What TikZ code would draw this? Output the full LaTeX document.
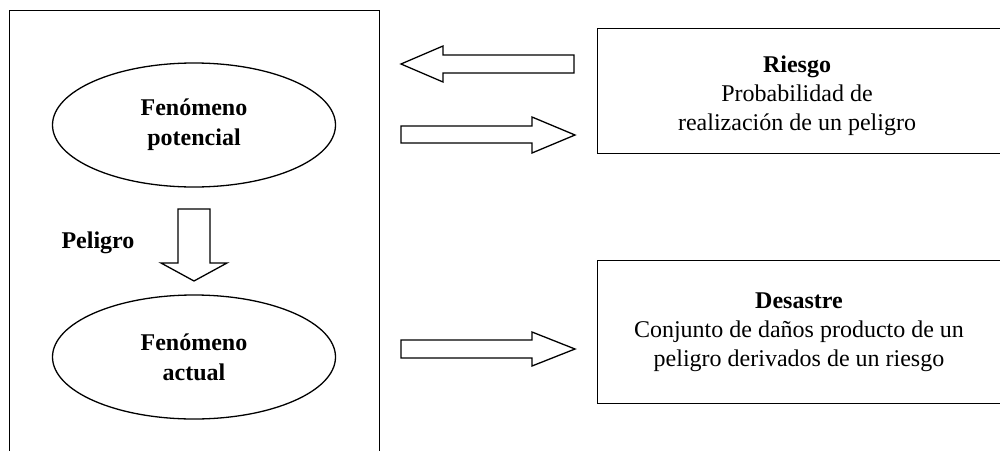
\documentclass[tikz,border=0pt]{standalone}
\usepackage{fontspec}
\setmainfont{Liberation Serif}
\usetikzlibrary{shapes.geometric}
\begin{document}
\begin{tikzpicture}[x=1pt,y=-1pt,line width=1.3pt,
  txt/.style={font=\fontsize{24}{29}\selectfont, align=center, inner sep=0pt},
  oval/.style={draw, ellipse, minimum width=283pt, minimum height=124pt, inner sep=0pt, align=center, font=\bfseries\fontsize{24}{30}\selectfont},
  panel/.style={draw, anchor=north west, inner sep=0pt},
  blockarrow/.style={draw, fill=white, line join=miter}]
\useasboundingbox (0,0) rectangle (1000,450);
\clip (0,0) rectangle (1000,450);
% left frame (open below the picture)
\node[panel, minimum width=370pt, minimum height=470pt] (frame) at (9,10) {};
% ellipses
\node[oval] (potencial) at (194,125) {Fenómeno\\potencial};
\node[oval] (actual) at (194,357) {Fenómeno\\actual};
\node[txt, font=\bfseries\fontsize{24}{29}\selectfont] (peligro) at (98,243) {Peligro};
% right boxes
\node[panel, minimum width=430pt, minimum height=125pt] (riesgo) at (597,28) {};
\node[txt] (riesgotxt) at (797,96) {\textbf{Riesgo}\\Probabilidad de\\realización de un peligro};
\node[panel, minimum width=430pt, minimum height=143pt] (desastre) at (597,260) {};
\node[txt] (desastretxt) at (799,332) {\textbf{Desastre}\\Conjunto de daños producto de un\\peligro derivados de un riesgo};
% block arrows
\draw[blockarrow] (178,209) -- (210,209) -- (210,263) -- (227,263) -- (194,281) -- (161,263) -- (178,263) -- cycle;
\draw[blockarrow] (574,55) -- (443,55) -- (443,46) -- (401,64) -- (443,82) -- (443,73) -- (574,73) -- cycle;
\draw[blockarrow] (401,126) -- (532,126) -- (532,117) -- (575,135) -- (532,153) -- (532,143) -- (401,143) -- cycle;
\draw[blockarrow] (401,340) -- (532,340) -- (532,332) -- (575,349) -- (532,366) -- (532,358) -- (401,358) -- cycle;
\end{tikzpicture}
\end{document}
